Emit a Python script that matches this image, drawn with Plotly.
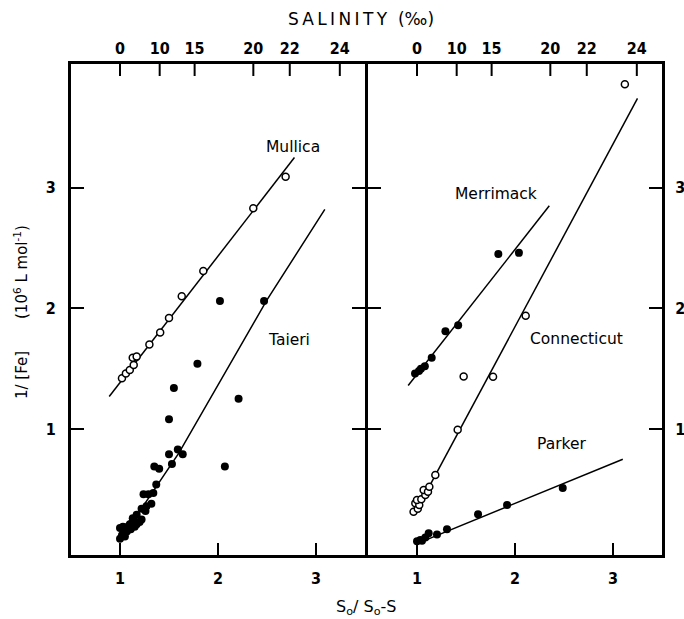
import plotly.graph_objects as go

# ---------------- data ----------------
S0 = 34.7
salinity_ticks = [0, 10, 15, 20, 22, 24]
ratio_ticks = [1, 2, 3]
fe_ticks = [1, 2, 3]

mullica_x = [1.02, 1.06, 1.10, 1.14, 1.13, 1.17, 1.30, 1.41, 1.50, 1.63, 1.85, 2.36, 2.69]
mullica_y = [1.42, 1.46, 1.49, 1.53, 1.59, 1.60, 1.70, 1.80, 1.92, 2.10, 2.31, 2.83, 3.09]
mullica_fit_x = [0.89, 2.78]
mullica_fit_y = [1.27, 3.25]

taieri_x = [2.02, 2.47, 1.79, 1.55, 2.21, 1.50, 2.07, 1.59, 1.64, 1.50, 1.53, 1.35, 1.40,
            1.37, 1.34, 1.24, 1.29, 1.32, 1.27, 1.22, 1.26, 1.17, 1.22, 1.14, 1.17, 1.10,
            1.03, 1.00, 1.07, 1.02, 1.00, 1.11, 1.05, 1.13, 1.20, 1.08, 1.04, 1.15, 1.12]
taieri_y = [2.06, 2.06, 1.54, 1.34, 1.25, 1.08, 0.69, 0.83, 0.79, 0.79, 0.71, 0.69, 0.67,
            0.54, 0.47, 0.46, 0.46, 0.38, 0.36, 0.34, 0.32, 0.29, 0.25, 0.25, 0.21, 0.21,
            0.19, 0.18, 0.15, 0.12, 0.09, 0.17, 0.11, 0.26, 0.23, 0.19, 0.14, 0.19, 0.22]
taieri_fit_x = [1.02, 1.60, 2.50, 3.09]
taieri_fit_y = [0.10, 0.80, 2.07, 2.82]

merrimack_x = [0.98, 1.02, 1.04, 1.08, 1.15, 1.29, 1.42, 1.83, 2.04]
merrimack_y = [1.46, 1.48, 1.50, 1.52, 1.59, 1.81, 1.86, 2.45, 2.46]
merrimack_fit_x = [0.91, 2.35]
merrimack_fit_y = [1.36, 2.85]

connecticut_x = [0.965, 1.008, 0.983, 1.023, 1.00, 1.044, 1.085, 1.068, 1.112, 1.126,
                 1.187, 1.415, 1.476, 1.776, 2.109, 3.121]
connecticut_y = [0.315, 0.34, 0.384, 0.37, 0.412, 0.418, 0.453, 0.495, 0.481, 0.522,
                 0.619, 0.994, 1.436, 1.433, 1.938, 3.857]
connecticut_fit_x = [1.07, 3.25]
connecticut_fit_y = [0.44, 3.74]

parker_x = [1.00, 1.034, 1.051, 1.085, 1.119, 1.204, 1.306, 1.623, 1.919, 2.487]
parker_y = [0.07, 0.081, 0.075, 0.10, 0.136, 0.125, 0.17, 0.293, 0.371, 0.511]
parker_fit_x = [1.00, 3.10]
parker_fit_y = [0.05, 0.75]

labels_left = [("Mullica", 2.77, 3.34), ("Taieri", 2.72, 1.74)]
labels_right = [("Merrimack", 1.81, 2.95), ("Connecticut", 2.63, 1.745), ("Parker", 2.47, 0.88)]

# ---------------- figure ----------------
TXT_FONT = "DejaVu Sans, sans-serif"
NUM_FONT = "Liberation Sans Narrow, DejaVu Sans Condensed, sans-serif"
BLACK = "#000000"

W, H = 684, 619
ML, MR, MT, MB = 71, 22, 64, 64
PW, PH = W - ML - MR, H - MT - MB

def px_to_paper_x(px):
    return (px - ML) / PW

def px_to_paper_y(py):
    return (H - MB - py) / PH

fig = go.Figure()

def line(x, y, xa, ya, width=1.5):
    fig.add_trace(go.Scatter(x=x, y=y, mode="lines", xaxis=xa, yaxis=ya,
                             line=dict(color=BLACK, width=width), hoverinfo="skip",
                             showlegend=False, cliponaxis=False))

def filled(x, y, xa, ya):
    fig.add_trace(go.Scatter(x=x, y=y, mode="markers", xaxis=xa, yaxis=ya,
                             marker=dict(color=BLACK, size=8, line=dict(width=0)),
                             showlegend=False))

def hollow(x, y, xa, ya):
    fig.add_trace(go.Scatter(x=x, y=y, mode="markers", xaxis=xa, yaxis=ya,
                             marker=dict(color="white", size=7,
                                         line=dict(color=BLACK, width=1.5)),
                             showlegend=False))

XR = [0.5, 3.5]
XR2 = [0.5, 3.5]
YR = [-0.044, 4.025]
left_end = px_to_paper_x(365)
right_start = px_to_paper_x(368)

sal_pos = [S0 / (S0 - s) for s in salinity_ticks]
sal_txt = [str(s) for s in salinity_ticks]

# salinity tick marks hanging from the top frame (computed from the salinity values)
TOP_TICK = 12 / (PH / (YR[1] - YR[0]))
def top_ticks(xa, ya):
    tx, ty = [], []
    for p in sal_pos:
        tx += [p, p, None]
        ty += [YR[1], YR[1] - TOP_TICK, None]
    line(tx, ty, xa, ya, width=2)

# left panel
line(mullica_fit_x, mullica_fit_y, "x", "y")
line(taieri_fit_x, taieri_fit_y, "x", "y")
hollow(mullica_x, mullica_y, "x", "y")
filled(taieri_x, taieri_y, "x", "y")
top_ticks("x", "y")

# right panel
line(merrimack_fit_x, merrimack_fit_y, "x2", "y2")
line(connecticut_fit_x, connecticut_fit_y, "x2", "y2")
line(parker_fit_x, parker_fit_y, "x2", "y2")
filled(merrimack_x, merrimack_y, "x2", "y2")
hollow(connecticut_x, connecticut_y, "x2", "y2")
filled(parker_x, parker_y, "x2", "y2")
top_ticks("x2", "y2")

tickfont = dict(family=NUM_FONT, size=16, color=BLACK, weight="bold")

common_x = dict(showgrid=False, zeroline=False, showline=True, linecolor=BLACK,
                linewidth=3, mirror=True, ticks="inside", ticklen=12, tickwidth=2,
                tickcolor=BLACK, tickvals=ratio_ticks, ticktext=[str(v) for v in ratio_ticks],
                tickfont=tickfont, ticklabelstandoff=7, automargin=False, fixedrange=True)
common_y = dict(showgrid=False, zeroline=False, showline=True, linecolor=BLACK,
                linewidth=3, mirror="ticks", ticks="inside", ticklen=13, tickwidth=2,
                tickcolor=BLACK, tickvals=fe_ticks, ticktext=[str(v) for v in fe_ticks],
                tickfont=tickfont, range=YR, automargin=False, fixedrange=True)
top_x = dict(showgrid=False, zeroline=False, showline=False, side="top",
             ticks="", tickvals=sal_pos, ticktext=sal_txt, tickfont=tickfont,
             ticklabelstandoff=6, automargin=False, fixedrange=True)

fig.update_layout(
    width=W, height=H,
    margin=dict(l=ML, r=MR, t=MT, b=MB, autoexpand=False),
    paper_bgcolor="white", plot_bgcolor="white",
    font=dict(family=TXT_FONT, color=BLACK),
    showlegend=False,
    xaxis=dict(domain=[0, left_end], range=XR, anchor="y", **common_x),
    yaxis=dict(domain=[0, 1], anchor="x", side="left", ticklabelstandoff=9, **common_y),
    xaxis2=dict(domain=[right_start, 1], range=XR2, anchor="y2", **common_x),
    yaxis2=dict(domain=[0, 1], anchor="x2", side="right", ticklabelstandoff=7, **common_y),
    xaxis3=dict(overlaying="x", range=XR, anchor="y", **top_x),
    xaxis4=dict(overlaying="x2", range=XR2, anchor="y2", **top_x),
)

# invisible traces to activate the top salinity axes
fig.add_trace(go.Scatter(x=[1], y=[1], xaxis="x3", yaxis="y", mode="markers",
                         marker=dict(opacity=0), hoverinfo="skip", showlegend=False))
fig.add_trace(go.Scatter(x=[1], y=[1], xaxis="x4", yaxis="y2", mode="markers",
                         marker=dict(opacity=0), hoverinfo="skip", showlegend=False))

lab_font = dict(family=TXT_FONT, size=15.5, color=BLACK)
annots = []
for txt, x, y in labels_left:
    annots.append(dict(text=txt, x=x, y=y, xref="x", yref="y", showarrow=False,
                       xanchor="center", yanchor="middle", font=lab_font))
for txt, x, y in labels_right:
    annots.append(dict(text=txt, x=x, y=y, xref="x2", yref="y2", showarrow=False,
                       xanchor="center", yanchor="middle", font=lab_font))

thin = "\u2009"
annots.append(dict(text=thin.join("SALINITY") + "  (‰)",
                   x=px_to_paper_x(361), y=px_to_paper_y(19.5),
                   xref="paper", yref="paper", showarrow=False,
                   xanchor="center", yanchor="middle",
                   font=dict(family=TXT_FONT, size=17, color=BLACK)))
annots.append(dict(text="S<sub>o</sub>/ S<sub>o</sub>-S",
                   x=px_to_paper_x(366), y=px_to_paper_y(607),
                   xref="paper", yref="paper", showarrow=False,
                   xanchor="center", yanchor="middle",
                   font=dict(family=TXT_FONT, size=16, color=BLACK)))
annots.append(dict(text="1/ [Fe]", x=px_to_paper_x(22), y=px_to_paper_y(375),
                   xref="paper", yref="paper", showarrow=False, textangle=-90,
                   xanchor="center", yanchor="middle",
                   font=dict(family=TXT_FONT, size=15, color=BLACK)))
annots.append(dict(text="(10<sup>6</sup> L mol<sup>-1</sup>)", x=px_to_paper_x(21),
                   y=px_to_paper_y(272),
                   xref="paper", yref="paper", showarrow=False, textangle=-90,
                   xanchor="center", yanchor="middle",
                   font=dict(family=TXT_FONT, size=15, color=BLACK)))
fig.update_layout(annotations=annots)

fig.write_html("out.html")
